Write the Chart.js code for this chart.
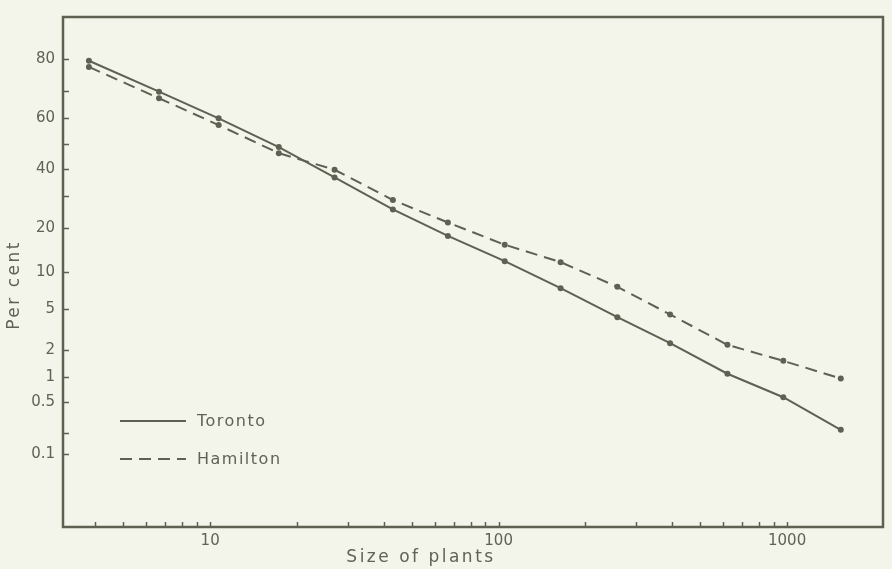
<!DOCTYPE html>
<html>
<head>
<meta charset="utf-8">
<title>Size of plants</title>
<script src="https://cdn.jsdelivr.net/npm/chart.js@4/dist/chart.umd.min.js"></script>
<style>
  html, body { margin: 0; padding: 0; background: #f3f4ea; }
  #wrap { width: 892px; height: 569px; }
</style>
</head>
<body>
<div id="wrap"><canvas id="chart"></canvas></div>
<script>
// size classes (plants) and share of plants at or above each size, per cent
const sizes = [3.8, 6.65, 10.7, 17.3, 27, 43, 66.7, 105, 164, 258, 393, 621, 970, 1535];
const toronto = [79.5, 69.7, 59.9, 48.6, 36.8, 25.6, 17.9, 12.1, 7.5, 4.2, 2.35, 1.1, 0.58, 0.22];
const hamilton = [77.7, 67.4, 57.3, 46.2, 39.7, 28.7, 21.6, 15.7, 11.9, 7.7, 4.45, 2.26, 1.53, 0.97];

// axis ticks
const yTicks = [0.1, 0.2, 0.5, 1, 2, 5, 10, 20, 30, 40, 50, 60, 70, 80];
const yLabels = [0.1, 0.5, 1, 2, 5, 10, 20, 40, 60, 80];
const xTicks = [4, 5, 6, 7, 8, 9, 10, 20, 30, 40, 50, 60, 70, 80, 90,
                100, 200, 300, 400, 500, 600, 700, 800, 900, 1000];
const xLabels = [10, 100, 1000];
const xTitle = 'Size of plants';
const yTitle = 'Per cent';

const ink = '#5d6152';
const textInk = '#5f6355';
const fontFamily = '"DejaVu Sans", sans-serif';

// inverse of the normal distribution (Acklam's approximation)
function probit(p) {
  const a = [-39.69683028665376, 220.9460984245205, -275.9285104469687, 138.3577518672690, -30.66479806614716, 2.506628277459239];
  const b = [-54.47609879822406, 161.5858368580409, -155.6989798598866, 66.80131188771972, -13.28068155288572];
  const c = [-0.007784894002430293, -0.3223964580411365, -2.400758277161838, -2.549732539343734, 4.374664141464968, 2.938163982698783];
  const d = [0.007784695709041462, 0.3224671290700398, 2.445134137142996, 3.754408661907416];
  const lo = 0.02425;
  if (p < lo) {
    const q = Math.sqrt(-2 * Math.log(p));
    return (((((c[0]*q + c[1])*q + c[2])*q + c[3])*q + c[4])*q + c[5]) / ((((d[0]*q + d[1])*q + d[2])*q + d[3])*q + 1);
  }
  if (p > 1 - lo) {
    const q = Math.sqrt(-2 * Math.log(1 - p));
    return -(((((c[0]*q + c[1])*q + c[2])*q + c[3])*q + c[4])*q + c[5]) / ((((d[0]*q + d[1])*q + d[2])*q + d[3])*q + 1);
  }
  const q = p - 0.5, r = q * q;
  return (((((a[0]*r + a[1])*r + a[2])*r + a[3])*r + a[4])*r + a[5])*q / (((((b[0]*r + b[1])*r + b[2])*r + b[3])*r + b[4])*r + 1);
}

// normal cdf, for going back from pixel to value
function normCdf(z) {
  const t = 1 / (1 + 0.2316419 * Math.abs(z));
  const poly = t * (0.319381530 + t * (-0.356563782 + t * (1.781477937 + t * (-1.821255978 + t * 1.330274429))));
  const tail = Math.exp(-z * z / 2) / Math.sqrt(2 * Math.PI) * poly;
  return z >= 0 ? 1 - tail : tail;
}

// probability-paper axis: percentages spaced by their normal quantile
class ProbitScale extends Chart.Scale {
  determineDataLimits() {
    const { min, max } = this.getMinMax(true);
    this.min = this.options.min ?? min;
    this.max = this.options.max ?? max;
  }
  buildTicks() {
    return yTicks.map(v => ({ value: v }));
  }
  configure() {
    super.configure();
    this._zMin = probit(this.min / 100);
    this._zMax = probit(this.max / 100);
  }
  getLabelForValue(value) {
    return String(value);
  }
  getPixelForValue(value) {
    const z = probit(value / 100);
    return this.getPixelForDecimal((z - this._zMin) / (this._zMax - this._zMin));
  }
  getValueForPixel(pixel) {
    const dec = this.getDecimalForPixel(pixel);
    return 100 * normCdf(this._zMin + dec * (this._zMax - this._zMin));
  }
}
ProbitScale.id = 'probit';
ProbitScale.defaults = {};
Chart.register(ProbitScale);

// frame round the plot and small tick marks pointing inwards
const frameTicks = {
  id: 'frameTicks',
  afterDraw(chart) {
    const { ctx, chartArea: ca, scales } = chart;
    ctx.save();
    ctx.strokeStyle = ink;
    ctx.lineWidth = 1.5;
    ctx.beginPath();
    scales.y.ticks.forEach(t => {
      const y = Math.round(scales.y.getPixelForValue(t.value)) + 0.5;
      ctx.moveTo(ca.left, y);
      ctx.lineTo(ca.left + 6, y);
    });
    scales.x.ticks.forEach(t => {
      const x = Math.round(scales.x.getPixelForValue(t.value)) + 0.5;
      ctx.moveTo(x, ca.bottom);
      ctx.lineTo(x, ca.bottom - 5);
    });
    ctx.stroke();
    ctx.lineWidth = 2.5;
    ctx.strokeRect(ca.left, ca.top, ca.right - ca.left, ca.bottom - ca.top);
    ctx.restore();
  }
};

// axis titles in wide-spaced lettering
const axisTitles = {
  id: 'axisTitles',
  afterDraw(chart) {
    const { ctx, chartArea: ca } = chart;
    ctx.save();
    ctx.font = '17px ' + fontFamily;
    ctx.fillStyle = textInk;
    ctx.letterSpacing = '2.5px';
    ctx.textAlign = 'center';
    ctx.textBaseline = 'middle';
    ctx.fillText(xTitle, ca.left + 358, ca.bottom + 31);
    ctx.translate(15, ca.top + 268);
    ctx.rotate(-Math.PI / 2);
    ctx.fillText(yTitle, 0, 0);
    ctx.restore();
  }
};

// key drawn inside the plot, bottom left
const insideKey = {
  id: 'insideKey',
  afterDraw(chart) {
    const { ctx, chartArea: ca } = chart;
    ctx.save();
    ctx.font = '16px ' + fontFamily;
    ctx.letterSpacing = '1.5px';
    ctx.fillStyle = textInk;
    ctx.textBaseline = 'middle';
    chart.data.datasets.forEach((ds, i) => {
      const y = ca.top + 404 + i * 38;
      ctx.strokeStyle = ds.borderColor;
      ctx.lineWidth = ds.borderWidth;
      ctx.setLineDash(ds.borderDash || []);
      ctx.beginPath();
      ctx.moveTo(ca.left + 57, y);
      ctx.lineTo(ca.left + 123, y);
      ctx.stroke();
      ctx.fillText(ds.label, ca.left + 134, y + 1);
    });
    ctx.restore();
  }
};

new Chart(document.getElementById('chart'), {
  type: 'line',
  data: {
    datasets: [
      {
        label: 'Toronto',
        data: sizes.map((s, i) => ({ x: s, y: toronto[i] })),
        borderColor: ink,
        backgroundColor: ink,
        borderWidth: 2,
        pointRadius: 3,
        pointBorderWidth: 0
      },
      {
        label: 'Hamilton',
        data: sizes.map((s, i) => ({ x: s, y: hamilton[i] })),
        borderColor: ink,
        backgroundColor: ink,
        borderWidth: 2,
        borderDash: [12, 7],
        pointRadius: 3,
        pointBorderWidth: 0
      }
    ]
  },
  options: {
    responsive: true,
    maintainAspectRatio: false,
    animation: false,
    events: [],
    layout: { padding: { top: 15, right: 9, left: 0, bottom: 0 } },
    plugins: { legend: { display: false }, tooltip: { enabled: false } },
    scales: {
      x: {
        type: 'logarithmic',
        min: 3.09,
        max: 2150,
        afterBuildTicks: scale => { scale.ticks = xTicks.map(v => ({ value: v })); },
        afterFit: scale => { scale.height = 42; },
        grid: { display: false, drawTicks: false },
        border: { display: false },
        ticks: {
          autoSkip: false,
          maxRotation: 0,
          padding: 5,
          color: textInk,
          font: { family: fontFamily, size: 15 },
          callback: v => xLabels.includes(v) ? String(v) : ''
        }
      },
      y: {
        type: 'probit',
        position: 'left',
        min: 0.0068,
        max: 89.6,
        afterFit: scale => { scale.width = 63; },
        grid: { display: false, drawTicks: false },
        border: { display: false },
        ticks: {
          autoSkip: false,
          padding: 8,
          color: textInk,
          font: { family: fontFamily, size: 15 },
          callback: v => yLabels.includes(v) ? String(v) : ''
        }
      }
    }
  },
  plugins: [frameTicks, axisTitles, insideKey]
});
</script>
</body>
</html>
